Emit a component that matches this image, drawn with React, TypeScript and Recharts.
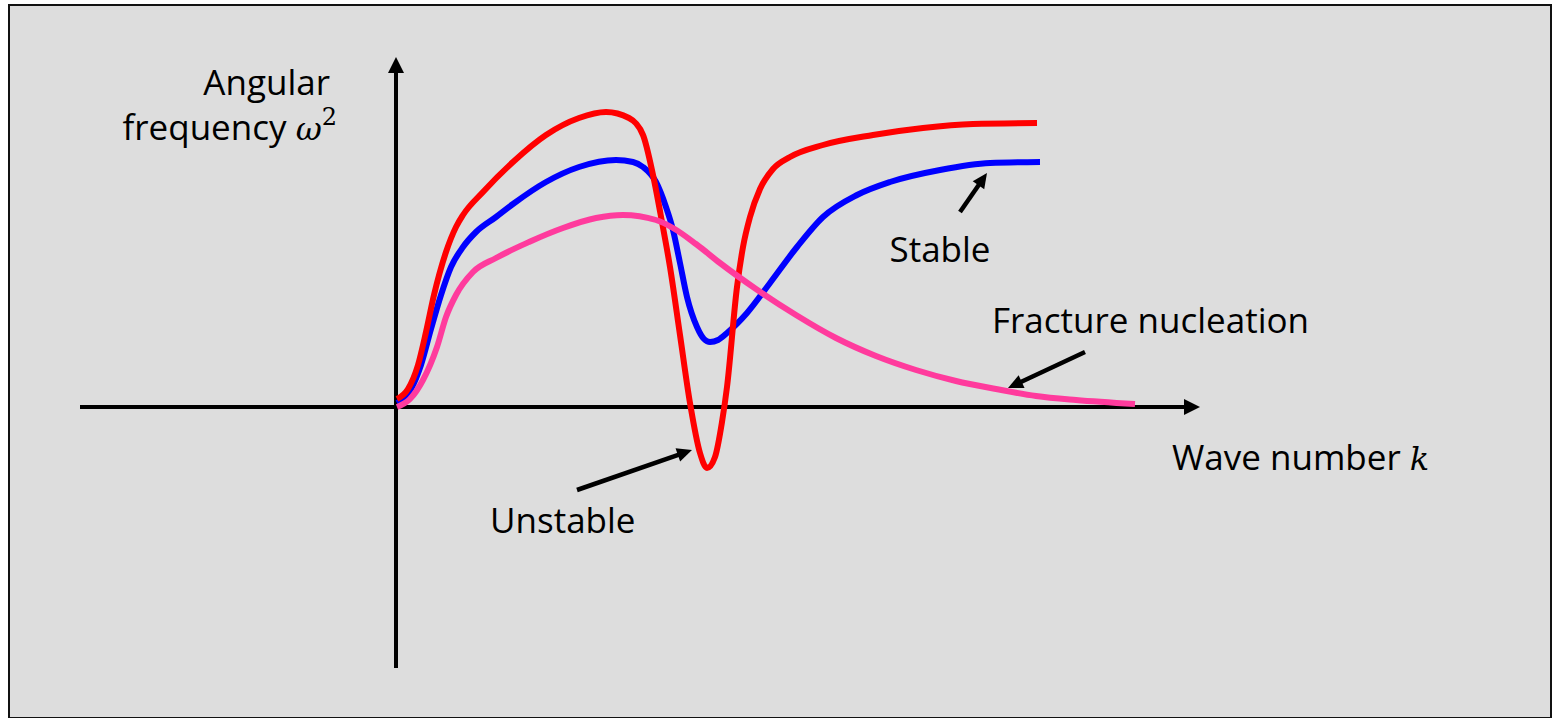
import React from 'react';
import { LineChart, Line, XAxis, YAxis, ReferenceLine, ReferenceDot } from 'recharts';

// Curves: k = wave number, w = omega^2 (arbitrary units)
const redCurve = [
  { k: 0.01, w: 0.08 }, { k: 0.12, w: 0.18 }, { k: 0.22, w: 0.42 }, { k: 0.3, w: 0.75 },
  { k: 0.38, w: 1.12 }, { k: 0.5, w: 1.55 }, { k: 0.6, w: 1.8 }, { k: 0.67, w: 1.92 },
  { k: 0.87, w: 2.15 }, { k: 1.17, w: 2.45 }, { k: 1.5, w: 2.72 }, { k: 1.83, w: 2.89 },
  { k: 2.1, w: 2.95 }, { k: 2.33, w: 2.89 }, { k: 2.47, w: 2.72 }, { k: 2.57, w: 2.32 },
  { k: 2.66, w: 1.85 }, { k: 2.74, w: 1.4 }, { k: 2.84, w: 0.72 }, { k: 2.94, w: 0.04 },
  { k: 3.04, w: -0.46 }, { k: 3.11, w: -0.61 }, { k: 3.19, w: -0.5 }, { k: 3.26, w: -0.15 },
  { k: 3.31, w: 0.2 }, { k: 3.41, w: 1.2 }, { k: 3.47, w: 1.6 }, { k: 3.54, w: 1.9 },
  { k: 3.64, w: 2.18 }, { k: 3.77, w: 2.38 }, { k: 3.94, w: 2.5 }, { k: 4.27, w: 2.62 },
  { k: 4.77, w: 2.72 }, { k: 5.27, w: 2.79 }, { k: 5.77, w: 2.83 }, { k: 6.41, w: 2.84 },
];

const blueCurve = [
  { k: 0.01, w: 0.04 }, { k: 0.15, w: 0.18 }, { k: 0.25, w: 0.42 }, { k: 0.35, w: 0.78 },
  { k: 0.45, w: 1.12 }, { k: 0.55, w: 1.4 }, { k: 0.67, w: 1.6 }, { k: 0.8, w: 1.75 },
  { k: 1.0, w: 1.9 }, { k: 1.17, w: 2.03 }, { k: 1.5, w: 2.25 }, { k: 1.83, w: 2.4 },
  { k: 2.2, w: 2.47 }, { k: 2.37, w: 2.45 }, { k: 2.47, w: 2.4 }, { k: 2.6, w: 2.25 },
  { k: 2.7, w: 2.0 }, { k: 2.77, w: 1.77 }, { k: 2.84, w: 1.44 }, { k: 2.91, w: 1.1 },
  { k: 3.01, w: 0.8 }, { k: 3.08, w: 0.68 }, { k: 3.14, w: 0.65 }, { k: 3.22, w: 0.67 },
  { k: 3.31, w: 0.74 }, { k: 3.51, w: 0.94 }, { k: 3.74, w: 1.24 }, { k: 4.01, w: 1.6 },
  { k: 4.27, w: 1.9 }, { k: 4.61, w: 2.12 }, { k: 4.94, w: 2.25 }, { k: 5.44, w: 2.37 },
  { k: 5.94, w: 2.44 }, { k: 6.44, w: 2.45 },
];

const pinkCurve = [
  { k: 0.01, w: 0.0 }, { k: 0.14, w: 0.08 }, { k: 0.27, w: 0.27 }, { k: 0.41, w: 0.6 },
  { k: 0.5, w: 0.9 }, { k: 0.6, w: 1.12 }, { k: 0.77, w: 1.35 }, { k: 1.0, w: 1.49 },
  { k: 1.33, w: 1.65 }, { k: 1.67, w: 1.79 }, { k: 2.0, w: 1.89 }, { k: 2.27, w: 1.92 },
  { k: 2.6, w: 1.87 }, { k: 2.77, w: 1.79 }, { k: 3.0, w: 1.63 }, { k: 3.24, w: 1.44 },
  { k: 3.6, w: 1.18 }, { k: 4.0, w: 0.92 }, { k: 4.4, w: 0.69 }, { k: 4.8, w: 0.51 },
  { k: 5.2, w: 0.37 }, { k: 5.6, w: 0.26 }, { k: 6.0, w: 0.18 }, { k: 6.4, w: 0.11 },
  { k: 6.8, w: 0.07 }, { k: 7.39, w: 0.03 },
];

const kDomain = [-3.16, 8.04];
const wDomain = [-2.61, 3.5];

// annotation arrows (tail -> tip)
const pointers = [
  { name: 'stable', from: { x: 5.64, y: 1.95 }, to: { x: 5.91, y: 2.34 } },
  { name: 'fracture', from: { x: 6.89, y: 0.55 }, to: { x: 6.12, y: 0.19 } },
  { name: 'unstable', from: { x: 1.81, y: -0.83 }, to: { x: 2.96, y: -0.43 } },
];

// text labels: anchor point in chart units
const labels = [
  { k: -0.66, w: 3.12, anchor: 'end', text: 'Angular', math: '', sup: '' },
  { k: -0.59, w: 2.67, anchor: 'end', text: 'frequency ', math: 'ω', sup: '2' },
  { k: 5.44, w: 1.45, anchor: 'middle', text: 'Stable', math: '', sup: '' },
  { k: 5.96, w: 0.74, anchor: 'start', text: 'Fracture nucleation', math: '', sup: '' },
  { k: 7.76, w: -0.63, anchor: 'start', text: 'Wave number ', math: 'k', sup: '' },
  { k: 0.94, w: -1.26, anchor: 'start', text: 'Unstable', math: '', sup: '' },
];

const FONT = '"Open Sans", sans-serif';

function arrowShape(headLen: number, headHalf: number, width: number) {
  return (props: any) => {
    const { x1, y1, x2, y2 } = props;
    const dx = x2 - x1;
    const dy = y2 - y1;
    const len = Math.sqrt(dx * dx + dy * dy) || 1;
    const ux = dx / len;
    const uy = dy / len;
    const bx = x2 - ux * headLen;
    const by = y2 - uy * headLen;
    const pts = `${x2},${y2} ${bx - uy * headHalf},${by + ux * headHalf} ${bx + uy * headHalf},${by - ux * headHalf}`;
    return (
      <g>
        <line x1={x1} y1={y1} x2={bx + ux * 2} y2={by + uy * 2} stroke="#000" strokeWidth={width} />
        <polygon points={pts} fill="#000" />
      </g>
    );
  };
}

function labelShape(l: (typeof labels)[number]) {
  return (props: any) => (
    <text x={props.cx} y={props.cy} textAnchor={l.anchor} fontFamily={FONT} fontSize={35} fill="#000">
      {l.text}
      {l.math && (
        <tspan fontFamily='"DejaVu Serif", serif' fontStyle="italic" fontSize={32}>{l.math}</tspan>
      )}
      {l.sup && (
        <tspan fontFamily='"DejaVu Serif", serif' fontSize={24} dy={-15}>{l.sup}</tspan>
      )}
    </text>
  );
}

export default function App() {
  return (
    <div style={{ position: 'absolute', left: 0, top: 0, width: 1554, height: 718, overflow: 'hidden' }}>
      <div
        style={{
          position: 'absolute',
          left: 8,
          top: 4,
          width: 1540,
          height: 711,
          border: '2px solid #111',
          background: '#dddddd',
        }}
      />
      <div style={{ position: 'absolute', left: 0, top: 0 }}>
        <LineChart width={1554} height={718} margin={{ top: 57, right: 354, bottom: 50, left: 80 }}>
          <XAxis type="number" dataKey="k" domain={kDomain} allowDataOverflow hide />
          <YAxis type="number" dataKey="w" domain={wDomain} allowDataOverflow hide />
          <ReferenceLine
            segment={[{ x: kDomain[0], y: 0 }, { x: kDomain[1], y: 0 }]}
            shape={arrowShape(16, 8, 4)}
            ifOverflow="visible"
          />
          <ReferenceLine
            segment={[{ x: 0, y: wDomain[0] }, { x: 0, y: wDomain[1] }]}
            shape={arrowShape(16, 8, 4)}
            ifOverflow="visible"
          />
          <Line data={blueCurve} dataKey="w" type="monotone" stroke="#0000ff" strokeWidth={6} dot={false} activeDot={false} isAnimationActive={false} />
          <Line data={redCurve} dataKey="w" type="monotone" stroke="#ff0000" strokeWidth={6} dot={false} activeDot={false} isAnimationActive={false} />
          <Line data={pinkCurve} dataKey="w" type="monotone" stroke="#ff3b9d" strokeWidth={6} dot={false} activeDot={false} isAnimationActive={false} />
          {pointers.map((p) => (
            <ReferenceLine
              key={p.name}
              segment={[p.from, p.to]}
              shape={arrowShape(15, 7, 4.5)}
              ifOverflow="visible"
            />
          ))}
          {labels.map((l, i) => (
            <ReferenceDot key={i} x={l.k} y={l.w} r={0} shape={labelShape(l)} ifOverflow="visible" />
          ))}
        </LineChart>
      </div>
    </div>
  );
}
